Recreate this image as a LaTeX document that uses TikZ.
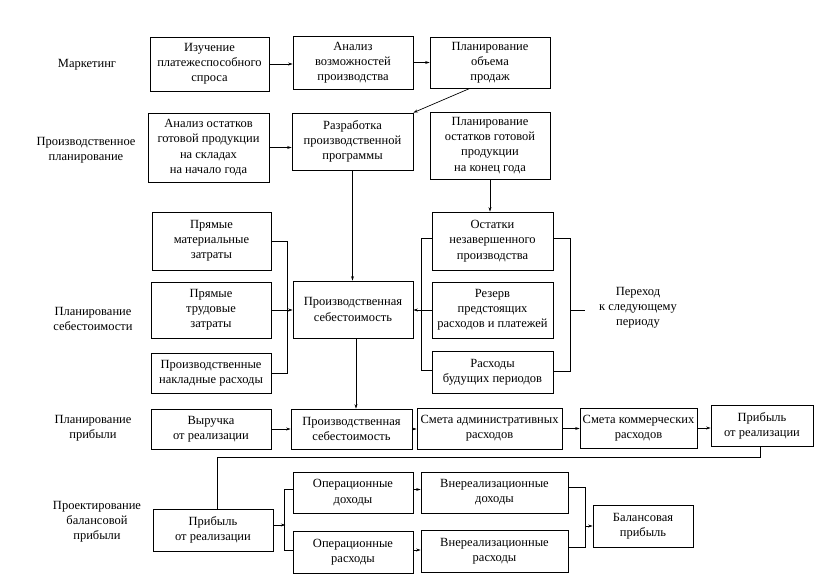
\documentclass[tikz,border=0pt]{standalone}
\usepackage{fontspec}
\setmainfont{Liberation Serif}
\usetikzlibrary{arrows.meta,calc}
\tikzset{
  box/.style={draw, line width=0.7pt, align=center, inner sep=0pt, font=\fontsize{12.5}{15.2}\selectfont},
  lbl/.style={align=center, inner sep=0pt, font=\fontsize{12.5}{15.2}\selectfont},
  ln/.style={line width=0.7pt},
  arr/.style={line width=0.7pt, -{Stealth[length=4.5pt,width=3pt]}}
}
\newcommand\bx[6]{\node[box, minimum width=#4pt, minimum height=#5pt] (#1) at (#2,#3) {#6};}
\begin{document}
\begin{tikzpicture}[x=1pt,y=-1pt]
\useasboundingbox (0,0) rectangle (833,577);
% row labels
\node[lbl] (l1) at (87,65) {Маркетинг};
\node[lbl] (l2) at (86,150) {Производственное\\планирование};
\node[lbl] (l3) at (93,319) {Планирование\\себестоимости};
\node[lbl] (l4) at (93,428) {Планирование\\прибыли};
\node[lbl] (l5) at (97,522) {Проектирование\\балансовой\\прибыли};
\node[lbl] (per) at (638,308) {Переход\\к следующему\\периоду};
% boxes
\bx{izuch}{209.5}{64}{119}{54}{Изучение\\платежеспособного\\спроса}
\bx{analiz}{353}{62.5}{120}{53}{Анализ\\возможностей\\производства}
\bx{planob}{490}{62.5}{120}{51}{Планирование\\объема\\продаж}
\bx{anost}{208.5}{147.5}{121}{69}{Анализ остатков\\готовой продукции\\на складах\\на начало года}
\bx{razr}{352.5}{141.5}{121}{57}{Разработка\\производственной\\программы}
\bx{planost}{490}{145.5}{120}{67}{Планирование\\остатков готовой\\продукции\\на конец года}
\bx{mat}{211.5}{241}{119}{58}{Прямые\\материальные\\затраты}
\bx{trud}{211}{310}{120}{56}{Прямые\\трудовые\\затраты}
\bx{nakl}{211}{373}{120}{40}{Производственные\\накладные расходы}
\bx{seb1}{353}{309.5}{120}{57}{Производственная\\себестоимость}
\bx{ostn}{492.5}{241}{121}{58}{Остатки\\незавершенного\\производства}
\bx{rez}{492.5}{310}{121}{56}{Резерв\\предстоящих\\расходов и платежей}
\bx{bud}{492.5}{372}{121}{42}{Расходы\\будущих периодов}
\bx{vyr}{211}{429}{120}{40}{Выручка\\от реализации}
\bx{seb2}{351.5}{429}{121}{40}{Производственная\\себестоимость}
\bx{adm}{489.5}{428.5}{145}{41}{Смета административных\\расходов}
\bx{kom}{638.5}{428}{117}{40}{Смета коммерческих\\расходов}
\bx{prib1}{762}{425.5}{102}{41}{Прибыль\\от реализации}
\bx{prib2}{213}{530}{120}{42}{Прибыль\\от реализации}
\bx{opd}{353}{492.5}{120}{41}{Операционные\\доходы}
\bx{opr}{353}{552}{120}{42}{Операционные\\расходы}
\bx{vnd}{494.5}{492.5}{147}{41}{Внереализационные\\доходы}
\bx{vnr}{494.5}{551}{147}{42}{Внереализационные\\расходы}
\bx{bal}{643}{526}{100}{42}{Балансовая\\прибыль}
% connectors
\draw[arr] (izuch.east) -- (izuch.east -| analiz.west);
\draw[arr] (analiz.east) -- (analiz.east -| planob.west);
\draw[arr] ([xshift=-20pt]planob.south) -- (razr.north east);
\draw[arr] (anost.east) -- (anost.east -| razr.west);
\draw[arr] (razr.south) -- (razr.south |- seb1.north);
\draw[arr] (planost.south) -- (planost.south |- ostn.north);
\draw[ln] (mat.east) -- ++(16,0) |- (nakl.east);
\draw[arr] (trud.east) -- (trud.east -| seb1.west);
\draw[ln] ([yshift=3pt]ostn.west) -- ++(-10,0) |- ([yshift=2pt]bud.west);
\draw[arr] (rez.west) -- (rez.west -| seb1.east);
\draw[ln] ([yshift=3pt]ostn.east) -- ++(17,0) coordinate (br) |- ([yshift=1pt]bud.east);
\draw[ln] (br |- rez.east) -- ++(15,0) coordinate (brend);
\draw[arr] ([xshift=3pt]seb1.south) -- ([xshift=3pt]seb1.south |- seb2.north);
\draw[arr] (vyr.east) -- (vyr.east -| seb2.west);
\draw[arr] (seb2.east) -- (seb2.east -| adm.west);
\draw[arr] (adm.east) -- (adm.east -| kom.west);
\draw[arr] (kom.east) -- (kom.east -| prib1.west);
\draw[ln] ([xshift=-2pt]prib1.south) -- ++(0,11) -| ([xshift=4pt]prib2.north);
\draw[arr] ([yshift=5pt]prib2.east) -- ++(12,0) coordinate (sp);
\draw[ln] ([yshift=3pt]opd.west) -- ++(-8,0) |- ([yshift=2pt]opr.west);
\draw[arr] ([yshift=3pt]opd.west -| opd.east) -- ([yshift=3pt]vnd.west);
\draw[arr] ([yshift=2pt]opr.east) -- ([yshift=2pt]opr.east -| vnr.west);
\draw[ln] ([yshift=5pt]vnd.east) -- ++(17,0) coordinate (bb) |- ([yshift=4pt]vnr.east);
\draw[arr] (bb |- bal.west) -- (bal.west);
\end{tikzpicture}
\end{document}
